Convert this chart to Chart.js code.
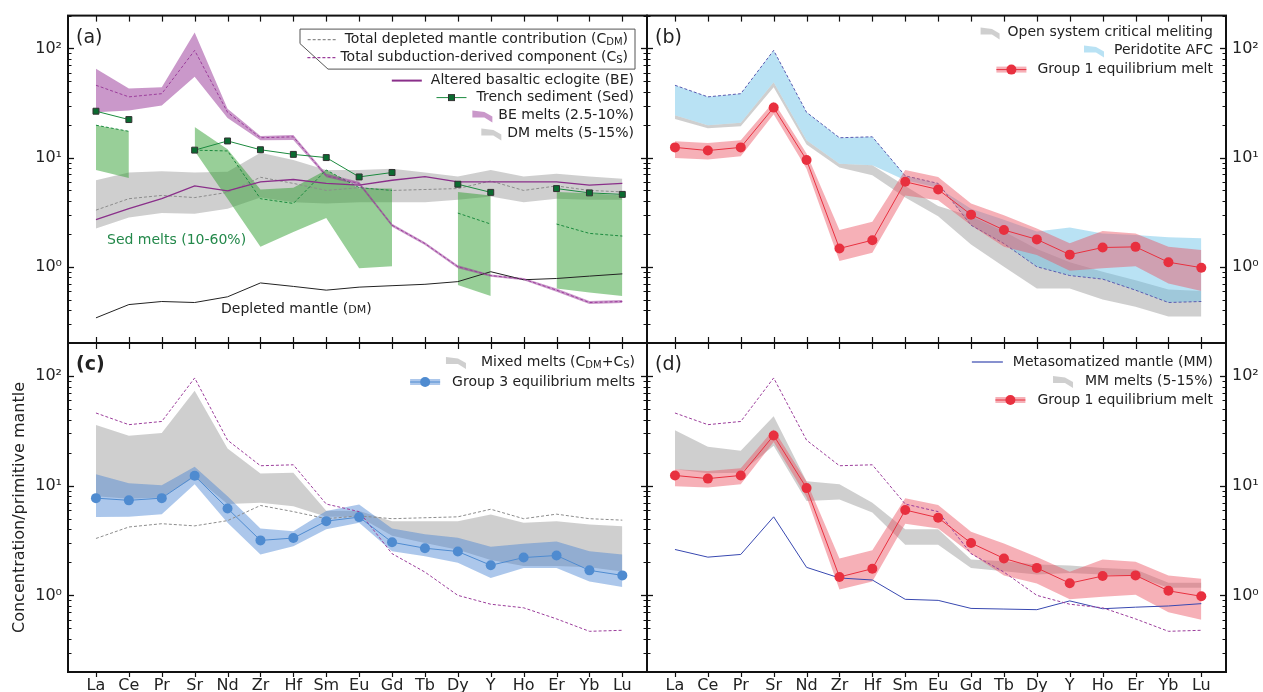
<!DOCTYPE html>
<html>
<head>
<meta charset="utf-8">
<script src="https://cdn.jsdelivr.net/npm/chart.js@4.4.0/dist/chart.umd.min.js"></script>
<style>
  html, body { margin: 0; padding: 0; background: #fff; overflow: hidden; }
  #wrap { position: relative; width: 1263px; height: 692px; overflow: hidden; background: #fff; }
  #wrap canvas { position: absolute; left: 0; top: 0; }
</style>
</head>
<body>
<div id="wrap">
  <canvas id="pa" width="1263" height="692"></canvas>
  <canvas id="pb" width="1263" height="692"></canvas>
  <canvas id="pc" width="1263" height="692"></canvas>
  <canvas id="pd" width="1263" height="692"></canvas>
</div>
<script>
// ---- element order (x axis) and y tick labels ----
const elements = ['La','Ce','Pr','Sr','Nd','Zr','Hf','Sm','Eu','Gd','Tb','Dy','Y','Ho','Er','Yb','Lu'];
const yMajorTicks = [1, 10, 100];
const yMajorLabels = ['10\u2070', '10\u00B9', '10\u00B2'];

// ---- shared end-member compositions ----
const totalDepletedMantle = [3.3, 4.2, 4.5, 4.3, 4.8, 6.6, 5.8, 5.0, 5.3, 5.0, 5.1, 5.2, 6.1, 5.0, 5.5, 5.0, 4.85];
const totalSubduction     = [46, 36, 38.5, 96, 26, 15.2, 15.5, 6.8, 5.8, 2.4, 1.63, 1.0, 0.83, 0.77, 0.61, 0.47, 0.48];

// ---- (a) sources and their melts ----
const alteredEclogite = [2.7, 3.4, 4.2, 5.5, 4.95, 6.0, 6.3, 5.8, 5.6, 6.2, 6.7, 6.0, 6.0, 6.0, 6.0, 5.6, 5.8];
const trenchSediment  = [26.6, 22.3, null, 11.7, 14.2, 11.8, 10.7, 10.0, 6.65, 7.3, null, 5.7, 4.8, null, 5.2, 4.75, 4.6];
const depletedMantle  = [0.34, 0.45, 0.48, 0.47, 0.53, 0.71, 0.66, 0.61, 0.65, 0.67, 0.69, 0.73, 0.90, 0.76, 0.78, 0.82, 0.86];
const beMeltsHigh  = [65, 43, 44, 140, 28, 15.8, 16.1, 7.1, 6.0, 2.48, 1.68, 1.03, 0.85, 0.79, 0.63, 0.485, 0.495];
const beMeltsLow   = [26, 27, 30, 55, 23, 14.4, 14.5, 6.6, 5.6, 2.32, 1.58, 0.97, 0.81, 0.75, 0.59, 0.455, 0.465];
const dmMeltsHigh  = [6.2, 7.3, 7.5, 7.3, 7.4, 11.1, 9.5, 7.7, 7.7, 7.9, 7.3, 6.7, 7.7, 6.7, 7.1, 6.7, 6.4];
const dmMeltsLow   = [2.24, 2.83, 3.1, 3.05, 3.4, 4.3, 3.9, 3.8, 3.9, 3.9, 3.9, 4.1, 4.4, 3.9, 4.2, 4.1, 4.1];
const sedMeltsHigh = [19.8, 17.4, null, 19.1, 11.9, 5.1, 5.3, 7.7, 5.2, 5.2, null, 4.85, 4.5, null, 4.85, 4.7, 4.5];
const sedMeltsLow  = [7.7, 6.5, null, 11.5, 4.2, 1.52, 2.08, 2.8, 0.97, 1.01, null, 0.68, 0.54, null, 0.63, 0.58, 0.54];
const sedMeltsMid  = [19.8, 17.4, null, 11.7, 11.5, 4.2, 3.8, 7.7, 5.3, 5.0, null, 3.1, 2.46, null, 2.46, 2.02, 1.91];

// ---- (b) and (d) Group 1 equilibrium melt ----
const group1Melt = [12.4, 11.6, 12.4, 28.7, 9.5, 1.47, 1.75, 6.0, 5.1, 3.0, 2.17, 1.78, 1.29, 1.5, 1.52, 1.1, 0.98];
const group1High = [14.1, 13.6, 14.4, 32.5, 10.9, 2.17, 2.58, 7.7, 6.65, 3.8, 2.97, 2.24, 1.64, 2.12, 2.02, 1.52, 1.42];
const group1Low  = [9.9, 9.6, 10.3, 25, 7.9, 1.13, 1.34, 4.5, 4.07, 2.4, 1.52, 1.28, 0.92, 0.97, 1.01, 0.70, 0.60];

// ---- (b) AFC and open-system melting ----
const afcEdge        = [24.4, 19.8, 20.8, 49, 14.4, 8.8, 8.5, 6.2, 5.3, 3.4, 2.7, 2.1, 2.29, 2.02, 1.95, 1.86, 1.82];
const openSystemHigh = [24.4, 19.8, 20.8, 49, 14.4, 8.8, 8.5, 5.5, 3.6, 2.9, 2.1, 1.45, 1.1, 0.9, 0.75, 0.62, 0.6];
const openSystemLow  = [22.6, 18.6, 19.4, 44, 13.2, 8.1, 6.9, 4.3, 2.9, 1.6, 1.0, 0.63, 0.63, 0.50, 0.43, 0.35, 0.35];

// ---- (c) mixed melts and Group 3 ----
const group3Melt = [7.7, 7.35, 7.7, 12.3, 6.2, 3.17, 3.33, 4.75, 5.17, 3.05, 2.69, 2.51, 1.88, 2.21, 2.31, 1.69, 1.52];
const group3High = [12.7, 10.5, 10.1, 14.9, 8.0, 4.07, 3.85, 5.87, 6.75, 4.07, 3.6, 3.35, 2.77, 2.95, 3.1, 2.53, 2.36];
const group3Low  = [5.17, 5.2, 5.5, 10.3, 4.6, 2.36, 2.8, 4.0, 4.6, 2.53, 2.27, 1.98, 1.44, 1.78, 1.78, 1.34, 1.19];
const mixedHigh  = [35.7, 28.5, 30.2, 73.5, 21.8, 12.9, 13.1, 5.9, 5.87, 4.75, 4.75, 4.75, 5.47, 4.6, 4.75, 4.43, 4.27];
const mixedLow   = [8.0, 7.6, 7.8, 12.0, 6.8, 7.0, 6.5, 5.2, 5.2, 3.5, 3.0, 2.6, 2.1, 1.85, 1.85, 1.8, 1.65];

// ---- (d) metasomatized mantle ----
const metasomatizedMantle = [2.62, 2.23, 2.36, 5.2, 1.8, 1.44, 1.38, 0.92, 0.90, 0.76, 0.75, 0.74, 0.89, 0.755, 0.78, 0.80, 0.84];
const mmMeltsHigh = [32, 22.6, 20.8, 42.9, 11.0, 10.3, 7.0, 4.0, 4.0, 2.12, 2.05, 1.91, 1.87, 1.78, 1.72, 1.3, 1.3];
const mmMeltsLow  = [14.1, 13.0, 13.1, 23.1, 7.25, 7.5, 5.7, 2.9, 2.9, 1.78, 1.66, 1.55, 1.6, 1.55, 1.49, 1.17, 1.17];

// ---- styling ----
const FONT = "'DejaVu Sans', sans-serif";
const INK = '#222';
const C = {
  greyBand: 'rgba(160,160,160,0.5)',
  purpleBand: 'rgba(150,50,150,0.5)',
  greenBand: 'rgba(50,160,50,0.5)',
  blueBand: 'rgba(100,190,230,0.45)',
  redBand: 'rgba(235,80,95,0.45)',
  g3Band: 'rgba(70,130,210,0.45)',
  red: '#e8303f',
  g3: '#4f8bd0',
  purple: '#8a2f8a',
  purpleDash: '#9b3d9b',
  greyDash: '#8c8c8c',
  green: '#1b8a3e',
  greenDark: '#0a6b30',
  afcDash: '#5a5ab0',
  mm: '#3848b0'
};

const pts = arr => arr.map((v, i) => ({ x: i, y: v }));
const CLEAR = 'rgba(0,0,0,0)';

function bandSets(low, high, color, order) {
  return [
    { data: pts(low), borderColor: CLEAR, borderWidth: 0, pointRadius: 0, fill: false, order },
    { data: pts(high), borderColor: CLEAR, borderWidth: 0, pointRadius: 0, fill: '-1', backgroundColor: color, order }
  ];
}
function lineSet(vals, color, width, dash, order) {
  return { data: pts(vals), borderColor: color, borderWidth: width, borderDash: dash || [], pointRadius: 0, fill: false, order };
}
function markerSet(vals, color, radius, style, order, edge) {
  return {
    data: pts(vals), borderColor: color, borderWidth: 1, fill: false, order,
    pointRadius: radius, pointStyle: style, pointBackgroundColor: style === 'rect' ? C.greenDark : color,
    pointBorderColor: edge || color, pointBorderWidth: edge ? 1 : 0
  };
}

// ---- panel frames, ticks, legends, notes ----
const PANEL_BOX = {
  pa: { l: 68, t: 15, r: 647, b: 343 },
  pb: { l: 647, t: 15, r: 1226, b: 343 },
  pc: { l: 68, t: 343, r: 647, b: 672 },
  pd: { l: 647, t: 343, r: 1226, b: 672 }
};

const textFont = kind => kind === 'sub' ? `10px ${FONT}` : kind === 'small' ? `11px ${FONT}` : `14px ${FONT}`;
const textShift = kind => kind === 'sub' ? 3 : kind === 'small' ? 1 : 0;

function richWidth(ctx, parts) {
  let w = 0;
  for (const p of parts) { ctx.font = textFont(p[1]); w += ctx.measureText(p[0]).width; }
  return w;
}
function drawRich(ctx, parts, x, y, color) {
  ctx.fillStyle = color;
  ctx.textAlign = 'left';
  ctx.textBaseline = 'middle';
  let cx = x;
  for (const p of parts) {
    ctx.font = textFont(p[1]);
    ctx.fillText(p[0], cx, y + textShift(p[1]));
    cx += ctx.measureText(p[0]).width;
  }
}
function seg(ctx, x0, y0, x1, y1) {
  ctx.beginPath(); ctx.moveTo(x0, y0); ctx.lineTo(x1, y1); ctx.stroke();
}
function ribbon(ctx, x0, x1, y, color) {
  const w = x1 - x0;
  ctx.fillStyle = color;
  ctx.beginPath();
  ctx.moveTo(x0, y - 5);
  ctx.lineTo(x0 + 0.6 * w, y - 3.5);
  ctx.lineTo(x1, y + 1);
  ctx.lineTo(x1, y + 7);
  ctx.lineTo(x0 + 0.6 * w, y + 2);
  ctx.lineTo(x0, y + 2);
  ctx.closePath();
  ctx.fill();
}
function legendIcon(ctx, it, x0, x1, y) {
  ctx.save();
  if (it.kind === 'line') {
    ctx.strokeStyle = it.color; ctx.lineWidth = it.width; ctx.setLineDash(it.dash || []);
    seg(ctx, x0, y, x1, y);
  } else if (it.kind === 'band') {
    ribbon(ctx, x0, x1, y, it.color);
  } else if (it.kind === 'marker') {
    if (it.under) { ctx.strokeStyle = it.under; ctx.lineWidth = 6; seg(ctx, x0, y, x1, y); }
    ctx.strokeStyle = it.color; ctx.lineWidth = 1; seg(ctx, x0, y, x1, y);
    const cx = (x0 + x1) / 2;
    if (it.shape === 'rect') {
      ctx.fillStyle = C.greenDark; ctx.strokeStyle = '#333';
      ctx.fillRect(cx - 3, y - 3, 6, 6); ctx.strokeRect(cx - 3, y - 3, 6, 6);
    } else {
      ctx.fillStyle = it.color; ctx.beginPath(); ctx.arc(cx, y, it.r, 0, Math.PI * 2); ctx.fill();
    }
  }
  ctx.restore();
}

const DECOR = {
  pa: {
    tag: '(a)', tagBold: false, bottomOut: false,
    legend: [
      { dy: 24, dxr: -19, gap: 9, len: 28, kind: 'line', color: C.greyDash, width: 1.2, dash: [3, 2], text: [['Total depleted mantle contribution (C'], ['DM', 'sub'], [')']] },
      { dy: 42, dxr: -19, gap: 5, len: 28, kind: 'line', color: C.purpleDash, width: 1.2, dash: [3, 2], text: [['Total subduction-derived component (C'], ['S', 'sub'], [')']] },
      { dy: 65, dxr: -13, gap: 9, len: 30, kind: 'line', color: C.purple, width: 2, text: [['Altered basaltic eclogite (BE)']] },
      { dy: 82, dxr: -13, gap: 10, len: 30, kind: 'marker', color: C.green, shape: 'rect', text: [['Trench sediment (Sed)']] },
      { dy: 100, dxr: -13, gap: 6, len: 20, kind: 'band', color: C.purpleBand, text: [['BE melts (2.5-10%)']] },
      { dy: 118, dxr: -13, gap: 6, len: 20, kind: 'band', color: C.greyBand, text: [['DM melts (5-15%)']] }
    ],
    box: true,
    notes: [
      { dx: 39, dy: 225, color: '#23884a', text: [['Sed melts (10-60%)']] },
      { dx: 153, dy: 294, color: INK, text: [['Depleted mantle ('], ['DM', 'small'], [')']] }
    ]
  },
  pb: {
    tag: '(b)', tagBold: false, bottomOut: false,
    legend: [
      { dy: 17, dxr: -13, gap: 8, len: 19, kind: 'band', color: C.greyBand, text: [['Open system critical meliting']] },
      { dy: 35, dxr: -13, gap: 10, len: 20, kind: 'band', color: C.blueBand, text: [['Peridotite AFC']] },
      { dy: 54, dxr: -13, gap: 11, len: 30, kind: 'marker', color: C.red, under: C.redBand, r: 5, text: [['Group 1 equilibrium melt']] }
    ],
    notes: []
  },
  pc: {
    tag: '(c)', tagBold: true, bottomOut: true,
    legend: [
      { dy: 19, dxr: -12, gap: 15, len: 20, kind: 'band', color: C.greyBand, text: [['Mixed melts (C'], ['DM', 'sub'], ['+C'], ['S', 'sub'], [')']] },
      { dy: 39, dxr: -12, gap: 12, len: 30, kind: 'marker', color: C.g3, under: C.g3Band, r: 5, text: [['Group 3 equilibrium melts']] }
    ],
    notes: []
  },
  pd: {
    tag: '(d)', tagBold: false, bottomOut: true,
    legend: [
      { dy: 19, dxr: -13, gap: 10, len: 31, kind: 'line', color: C.mm, width: 1.2, text: [['Metasomatized mantle (MM)']] },
      { dy: 38, dxr: -13, gap: 12, len: 20, kind: 'band', color: C.greyBand, text: [['MM melts (5-15%)']] },
      { dy: 57, dxr: -13, gap: 12, len: 30, kind: 'marker', color: C.red, under: C.redBand, r: 5, text: [['Group 1 equilibrium melt']] }
    ],
    notes: []
  }
};

const panelDecor = {
  id: 'panelDecor',
  afterDraw(chart) {
    const cfg = DECOR[chart.canvas.id];
    if (!cfg) return;
    const ctx = chart.ctx;
    const { left, right, top, bottom } = chart.chartArea;
    const xs = chart.scales.x, ys = chart.scales.y;
    ctx.save();

    // tick marks
    ctx.strokeStyle = '#111';
    ctx.lineWidth = 1.2;
    elements.forEach((_, i) => {
      const px = Math.round(xs.getPixelForValue(i)) + 0.5;
      seg(ctx, px, top, px, top + 6);
      if (cfg.bottomOut) seg(ctx, px, bottom, px, bottom + 5);
      else seg(ctx, px, bottom, px, bottom - 6);
    });
    for (let k = -1; k <= 2; k++) {
      for (let m = 1; m <= 9; m++) {
        const v = m * Math.pow(10, k);
        if (v < 0.2 - 1e-9 || v > 200 + 1e-9) continue;
        const py = Math.round(ys.getPixelForValue(v)) + 0.5;
        const len = m === 1 ? 6 : 3.5;
        ctx.lineWidth = m === 1 ? 1.3 : 1;
        seg(ctx, left, py, left + len, py);
        seg(ctx, right, py, right - len, py);
      }
    }

    // frame
    ctx.lineWidth = 2;
    ctx.strokeStyle = '#111';
    ctx.strokeRect(left, top, right - left, bottom - top);

    // panel tag
    ctx.fillStyle = INK;
    ctx.font = `${cfg.tagBold ? 'bold ' : ''}19px ${FONT}`;
    ctx.textAlign = 'left';
    ctx.textBaseline = 'middle';
    ctx.fillText(cfg.tag, left + 8, top + 22);

    // legend
    if (cfg.box) {
      ctx.strokeStyle = '#555';
      ctx.lineWidth = 1;
      ctx.beginPath();
      ctx.moveTo(right - 347, top + 13.5);
      ctx.lineTo(right - 12, top + 13.5);
      ctx.lineTo(right - 12, top + 53.5);
      ctx.lineTo(right - 319, top + 53.5);
      ctx.lineTo(right - 347, top + 28);
      ctx.closePath();
      ctx.stroke();
    }
    for (const it of cfg.legend) {
      const y = top + it.dy;
      const w = richWidth(ctx, it.text);
      const tx = right + it.dxr - w;
      drawRich(ctx, it.text, tx, y, INK);
      const ix1 = tx - it.gap;
      legendIcon(ctx, it, ix1 - it.len, ix1, y);
    }

    // annotations
    for (const n of cfg.notes) {
      drawRich(ctx, n.text, left + n.dx, top + n.dy, n.color);
    }
    ctx.restore();
  }
};

function buildChart(id, side, showX, yTitle, datasets) {
  const box = PANEL_BOX[id];
  const yWidth = side === 'left' ? 58 : 34;
  const xHeight = showX ? 20 : 0;
  const padding = {
    top: box.t,
    bottom: 692 - box.b - xHeight,
    left: side === 'left' ? box.l - yWidth : box.l,
    right: side === 'left' ? 1263 - box.r : 1263 - box.r - yWidth
  };
  return new Chart(document.getElementById(id), {
    type: 'line',
    data: { datasets },
    options: {
      responsive: false,
      animation: false,
      events: [],
      layout: { padding },
      elements: { line: { tension: 0 } },
      plugins: { legend: { display: false }, tooltip: { enabled: false } },
      scales: {
        x: {
          type: 'linear', position: 'bottom', min: -0.85, max: 16.75,
          afterBuildTicks: s => { s.ticks = elements.map((_, i) => ({ value: i })); },
          afterFit: s => { s.height = xHeight; },
          grid: { display: false, drawTicks: false },
          border: { display: false },
          ticks: {
            display: showX, autoSkip: false, maxRotation: 0, padding: 4,
            color: INK, font: { family: FONT, size: 16 },
            callback: v => elements[v]
          }
        },
        y: {
          type: 'logarithmic', position: side, min: 0.2, max: 200,
          afterBuildTicks: s => { s.ticks = yMajorTicks.map(v => ({ value: v, major: true })); },
          afterFit: s => { s.width = yWidth; },
          grid: { display: false, drawTicks: false },
          border: { display: false },
          ticks: {
            padding: side === 'left' ? 6 : 6, color: INK, font: { family: FONT, size: 16 },
            callback: v => { const k = yMajorTicks.indexOf(v); return k >= 0 ? yMajorLabels[k] : ''; }
          },
          title: {
            display: !!yTitle, text: yTitle || '', color: INK,
            font: { family: FONT, size: 16 }, padding: 0
          }
        }
      }
    },
    plugins: [panelDecor]
  });
}

// (a) source compositions and melts
buildChart('pa', 'left', false, null, [
  markerSet(trenchSediment, C.green, 4.2, 'rect', 1, '#333'),
  lineSet(totalSubduction, C.purpleDash, 1, [3, 2], 5),
  lineSet(alteredEclogite, C.purple, 1.3, null, 6),
  lineSet(depletedMantle, '#222', 1, null, 7),
  lineSet(sedMeltsMid, C.green, 1, [3, 2], 8),
  lineSet(totalDepletedMantle, C.greyDash, 1, [3, 2], 9),
  ...bandSets(beMeltsLow, beMeltsHigh, C.purpleBand, 30),
  ...bandSets(sedMeltsLow, sedMeltsHigh, C.greenBand, 40),
  ...bandSets(dmMeltsLow, dmMeltsHigh, C.greyBand, 50)
]);

// (b) open-system melting and AFC against Group 1
buildChart('pb', 'right', false, null, [
  markerSet(group1Melt, C.red, 5, 'circle', 1),
  ...bandSets(group1Low, group1High, C.redBand, 20),
  lineSet(totalSubduction, C.afcDash, 1, [3, 2], 25),
  ...bandSets(afcEdge, totalSubduction, C.blueBand, 40),
  ...bandSets(openSystemLow, openSystemHigh, C.greyBand, 50)
]);

// (c) mixed melts against Group 3
buildChart('pc', 'left', true, 'Concentration/primitive mantle', [
  markerSet(group3Melt, C.g3, 5, 'circle', 1),
  lineSet(totalSubduction, C.purpleDash, 1, [3, 2], 5),
  lineSet(totalDepletedMantle, C.greyDash, 1, [3, 2], 6),
  ...bandSets(group3Low, group3High, C.g3Band, 30),
  ...bandSets(mixedLow, mixedHigh, C.greyBand, 40)
]);

// (d) metasomatized mantle melts against Group 1
buildChart('pd', 'right', true, null, [
  markerSet(group1Melt, C.red, 5, 'circle', 1),
  lineSet(totalSubduction, C.purpleDash, 1, [3, 2], 5),
  lineSet(metasomatizedMantle, C.mm, 1, null, 6),
  ...bandSets(group1Low, group1High, C.redBand, 30),
  ...bandSets(mmMeltsLow, mmMeltsHigh, C.greyBand, 40)
]);
</script>
</body>
</html>
